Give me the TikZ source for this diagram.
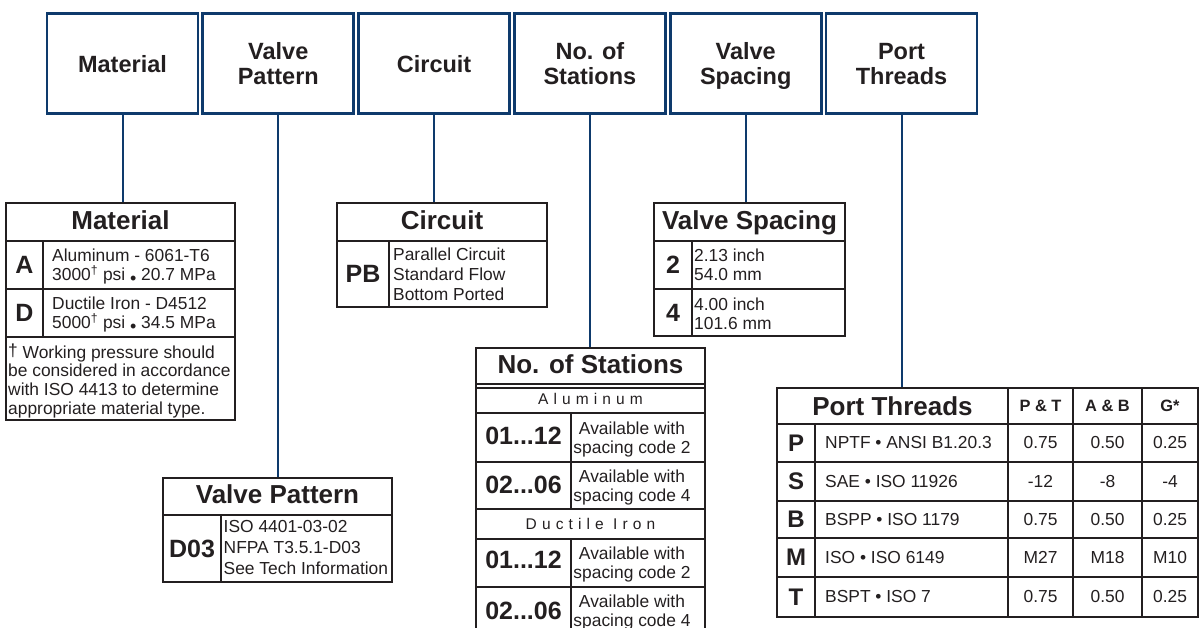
\documentclass[tikz,border=0pt]{standalone}
\usepackage{fontspec}
\setmainfont{Liberation Sans}
\definecolor{navy}{HTML}{0E3A6C}
\definecolor{ink}{HTML}{231F20}
\newcommand{\fs}[2]{\fontsize{#1}{#2}\selectfont}
\newcommand{\smbul}{\raisebox{-4pt}{\fs{18}{18}•}}
\begin{document}
\begin{tikzpicture}[x=1pt,y=-1pt,
  hbox/.style={draw=navy,line width=2.7pt,minimum width=151pt,minimum height=100.5pt,inner sep=0pt,align=center,text=ink,text depth=0pt,font=\bfseries\fs{23.5}{25}},
  conn/.style={draw=navy,line width=2pt},
  outer/.style={draw=ink,line width=2pt},
  inner/.style={draw=ink,line width=1.5pt},
  ttl/.style={text=ink,font=\bfseries\fs{26}{28},inner sep=0pt,anchor=base},
  code/.style={text=ink,font=\bfseries\fs{25}{27},inner sep=0pt},
  pcode/.style={text=ink,font=\bfseries\fs{24}{26},inner sep=0pt},
  colh/.style={text=ink,font=\bfseries\fs{16.4}{18},inner sep=0pt},
  body/.style={text=ink,font=\fs{17.4}{19},align=left,anchor=west,inner sep=0pt},
  val/.style={text=ink,font=\fs{17.4}{19},inner sep=0pt},
  avail/.style={text=ink,font=\fs{17.4}{19},align=center,inner sep=0pt},
  spaced/.style={text=ink,font=\fs{15.5}{17}\addfontfeature{LetterSpace=33},inner sep=0pt}]
\useasboundingbox (0,0) rectangle (1199,628);
\clip (0,0) rectangle (1199,628);

% ---------- header boxes ----------
\node[hbox] (hMat) at (122.5,63.5) {Material};
\node[hbox] (hPat) at (278.3,63.5) {Valve\\Pattern};
\node[hbox] (hCir) at (434.1,63.5) {Circuit};
\node[hbox] (hSta) at (589.9,63.5) {No. of\\Stations};
\node[hbox] (hSpa) at (745.7,63.5) {Valve\\Spacing};
\node[hbox] (hPor) at (901.5,63.5) {Port\\Threads};

% ---------- table tops ----------
\coordinate (matTop) at (120,203);
\coordinate (patTop) at (277,478);
\coordinate (cirTop) at (442,203);
\coordinate (staTop) at (590,348);
\coordinate (spaTop) at (749,203);
\coordinate (porTop) at (900,388);

\draw[conn] (hMat.south) -- (hMat.south |- matTop);
\draw[conn] (hPat.south) -- (hPat.south |- patTop);
\draw[conn] (hCir.south) -- (hCir.south |- cirTop);
\draw[conn] (hSta.south) -- (hSta.south |- staTop);
\draw[conn] (hSpa.south) -- (hSpa.south |- spaTop);
\draw[conn] (hPor.south) -- (hPor.south |- porTop);

% ---------- Material table ----------
\draw[outer] (6,203) rectangle (235,420);
\draw[outer] (6,241) -- (235,241);
\draw[inner] (6,289) -- (235,289);
\draw[inner] (6,337) -- (235,337);
\draw[inner] (43,241) -- (43,337);
\node[ttl] (matT) at (120.5,230) {Material};
\node[code] (matA) at (24.5,265) {A};
\node[code] (matD) at (24.5,313) {D};
\node[body] (matAt) at (52,267) {Aluminum - 6061-T6\\3000\textsuperscript{†} psi \smbul{} 20.7 MPa};
\node[body] (matDt) at (52,315) {Ductile Iron - D4512\\5000\textsuperscript{†} psi \smbul{} 34.5 MPa};
\node[body,font=\fs{17.4}{18.7}] (matN) at (8,381) {\raisebox{1.5pt}{†} Working pressure should\\be considered in accordance\\with ISO 4413 to determine\\appropriate material type.};

% ---------- Circuit table ----------
\draw[outer] (337,203) rectangle (547,307);
\draw[outer] (337,241) -- (547,241);
\draw[inner] (389,241) -- (389,307);
\node[ttl] (cirT) at (442,230) {Circuit};
\node[code] (cirPB) at (363,274) {PB};
\node[body,font=\fs{17.4}{20}] (cirt) at (393,274.5) {Parallel Circuit\\Standard Flow\\Bottom Ported};

% ---------- Valve Spacing table ----------
\draw[outer] (654,203) rectangle (845,336);
\draw[outer] (654,241) -- (845,241);
\draw[inner] (654,289) -- (845,289);
\draw[inner] (692,241) -- (692,336);
\node[ttl] (spaT) at (749.5,230) {Valve Spacing};
\node[code] (spa2) at (673,265) {2};
\node[code] (spa4) at (673,313) {4};
\node[body,font=\fs{17.4}{18.5}] (spa2t) at (694,265) {2.13 inch\\54.0 mm};
\node[body,font=\fs{17.4}{18.5}] (spa4t) at (694,314) {4.00 inch\\101.6 mm};

% ---------- Valve Pattern table ----------
\draw[outer] (163,478) rectangle (392,582);
\draw[outer] (163,515) -- (392,515);
\draw[inner] (221,515) -- (221,582);
\node[ttl] (patT) at (277.5,503.5) {Valve Pattern};
\node[code] (patD) at (192,549) {D03};
\node[body,font=\fs{17.4}{21}] (patt) at (223.5,548) {ISO 4401-03-02\\NFPA T3.5.1-D03\\See Tech Information};

% ---------- No. of Stations table ----------
\draw[outer] (476,348) rectangle (705,640);
\draw[outer] (476,384) -- (705,384);
\draw[inner] (476,388) -- (705,388);
\draw[inner] (476,413) -- (705,413);
\draw[inner] (476,462) -- (705,462);
\draw[inner] (476,509) -- (705,509);
\draw[inner] (476,539) -- (705,539);
\draw[inner] (476,587) -- (705,587);
\draw[inner] (571,413) -- (571,509);
\draw[inner] (571,539) -- (571,640);
\node[ttl] (staT) at (590.5,373.5) {No. of Stations};
\node[spaced] (staAl) at (590.5,398.5) {Aluminum};
\node[spaced] (staDi) at (590.5,523.5) {Ductile Iron};
\node[code] (sta1) at (523.5,436) {01...12};
\node[code] (sta2) at (523.5,484.5) {02...06};
\node[code] (sta3) at (523.5,560) {01...12};
\node[code] (sta4) at (523.5,611) {02...06};
\node[avail] (sta1t) at (632,439) {Available with\\spacing code 2};
\node[avail] (sta2t) at (632,487.5) {Available with\\spacing code 4};
\node[avail] (sta3t) at (632,564) {Available with\\spacing code 2};
\node[avail] (sta4t) at (632,612) {Available with\\spacing code 4};

% ---------- Port Threads table ----------
\draw[outer] (777,388) rectangle (1198,617);
\draw[outer] (777,424) -- (1198,424);
\foreach \yy in {462,501,538,577} \draw[inner] (777,\yy) -- (1198,\yy);
\draw[inner] (815,424) -- (815,617);
\foreach \xx in {1008,1073,1142} \draw[inner] (\xx,388) -- (\xx,617);
\node[ttl] (porT) at (892.5,415) {Port Threads};
\node[colh] (porH1) at (1040.5,406) {P \& T};
\node[colh] (porH2) at (1107.5,406) {A \& B};
\node[colh] (porH3) at (1170,406) {G*};

\node[pcode] (pP) at (796,443) {P};
\node[pcode] (pS) at (796,481.5) {S};
\node[pcode] (pB) at (796,519.5) {B};
\node[pcode] (pM) at (796,557.5) {M};
\node[pcode] (pT) at (796,597) {T};

\node[body] (pPt) at (825,443) {NPTF • ANSI B1.20.3};
\node[body] (pSt) at (825,481.5) {SAE • ISO 11926};
\node[body] (pBt) at (825,519.5) {BSPP • ISO 1179};
\node[body] (pMt) at (825,557.5) {ISO • ISO 6149};
\node[body] (pTt) at (825,597) {BSPT • ISO 7};

\node[val] (pP1) at (1040.5,443) {0.75};
\node[val] (pP2) at (1107.5,443) {0.50};
\node[val] (pP3) at (1170,443) {0.25};
\node[val] (pS1) at (1040.5,481.5) {-12};
\node[val] (pS2) at (1107.5,481.5) {-8};
\node[val] (pS3) at (1170,481.5) {-4};
\node[val] (pB1) at (1040.5,519.5) {0.75};
\node[val] (pB2) at (1107.5,519.5) {0.50};
\node[val] (pB3) at (1170,519.5) {0.25};
\node[val] (pM1) at (1040.5,557.5) {M27};
\node[val] (pM2) at (1107.5,557.5) {M18};
\node[val] (pM3) at (1170,557.5) {M10};
\node[val] (pT1) at (1040.5,597) {0.75};
\node[val] (pT2) at (1107.5,597) {0.50};
\node[val] (pT3) at (1170,597) {0.25};
\end{tikzpicture}
\end{document}
